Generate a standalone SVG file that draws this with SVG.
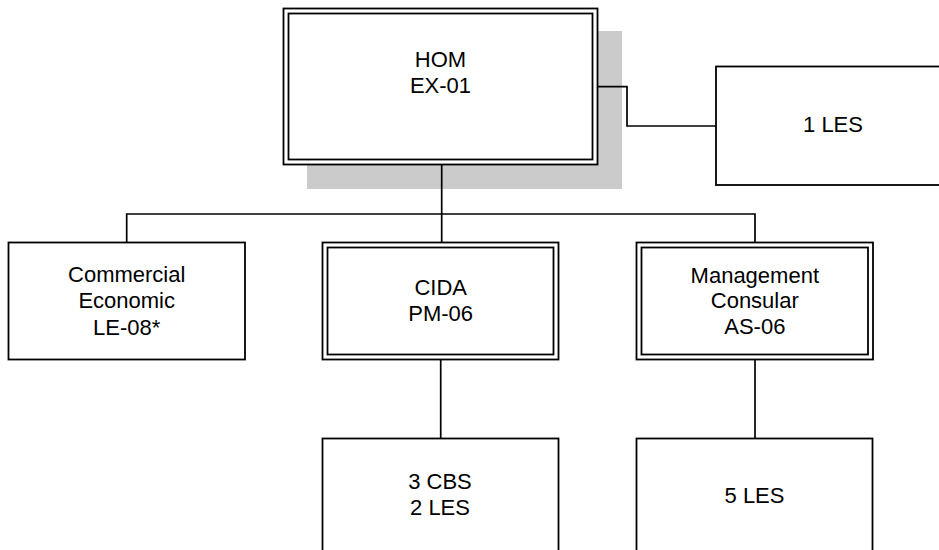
<svg xmlns="http://www.w3.org/2000/svg" width="939" height="550" viewBox="0 0 939 550">
<style>
.box{fill:#ffffff;stroke:#000000;stroke-width:1.8}
.in{fill:none;stroke:#000000;stroke-width:1.8}
.conn{fill:none;stroke:#000000;stroke-width:1.7}
.t{font-family:"Liberation Sans",Arial,sans-serif;font-size:22px;fill:#000000;text-anchor:middle}
</style>
<rect x="0" y="0" width="939" height="550" fill="#ffffff"/>
<g id="shadow"><rect x="307" y="31" width="315" height="158" fill="#cbcbcb"/></g>
<g id="connectors">
<polyline class="conn" points="597.5,86.7 627,86.7 627,126 716,126"/>
<line class="conn" x1="441.7" y1="165" x2="441.7" y2="242.5"/>
<polyline class="conn" points="126.7,242.5 126.7,214 755,214 755,242.5"/>
<line class="conn" x1="440.7" y1="360" x2="440.7" y2="438.5"/>
<line class="conn" x1="755" y1="360" x2="755" y2="438.5"/>
</g>
<g id="hom">
<rect class="box" x="283.5" y="8.5" width="314" height="156"/>
<rect class="in" x="288.5" y="13.5" width="304" height="146"/>
<text class="t" x="440.5" y="66.7">HOM</text>
<text class="t" x="440.5" y="93.3">EX-01</text>
</g>
<g id="les1">
<rect class="box" x="716" y="66.5" width="240" height="118.5"/>
<text class="t" x="833" y="131.7">1 LES</text>
</g>
<g id="commercial">
<rect class="box" x="8.5" y="242.5" width="236.5" height="117"/>
<text class="t" x="126.7" y="282.3">Commercial</text>
<text class="t" x="126.7" y="308">Economic</text>
<text class="t" x="126.7" y="334.5">LE-08*</text>
</g>
<g id="cida">
<rect class="box" x="322.5" y="242.5" width="236" height="117"/>
<rect class="in" x="327.5" y="247.5" width="226" height="107"/>
<text class="t" x="440.7" y="295">CIDA</text>
<text class="t" x="440.7" y="321">PM-06</text>
</g>
<g id="management">
<rect class="box" x="636.5" y="242.5" width="236.5" height="117"/>
<rect class="in" x="641.5" y="247.5" width="226.5" height="107"/>
<text class="t" x="754.8" y="282.7">Management</text>
<text class="t" x="754.8" y="308.3">Consular</text>
<text class="t" x="754.8" y="334">AS-06</text>
</g>
<g id="cbs">
<rect class="box" x="322.5" y="438.5" width="236" height="120"/>
<text class="t" x="440" y="489.3">3 CBS</text>
<text class="t" x="440" y="515">2 LES</text>
</g>
<g id="les5">
<rect class="box" x="636.5" y="438.5" width="236" height="120"/>
<text class="t" x="754.5" y="503.3">5 LES</text>
</g>
</svg>
